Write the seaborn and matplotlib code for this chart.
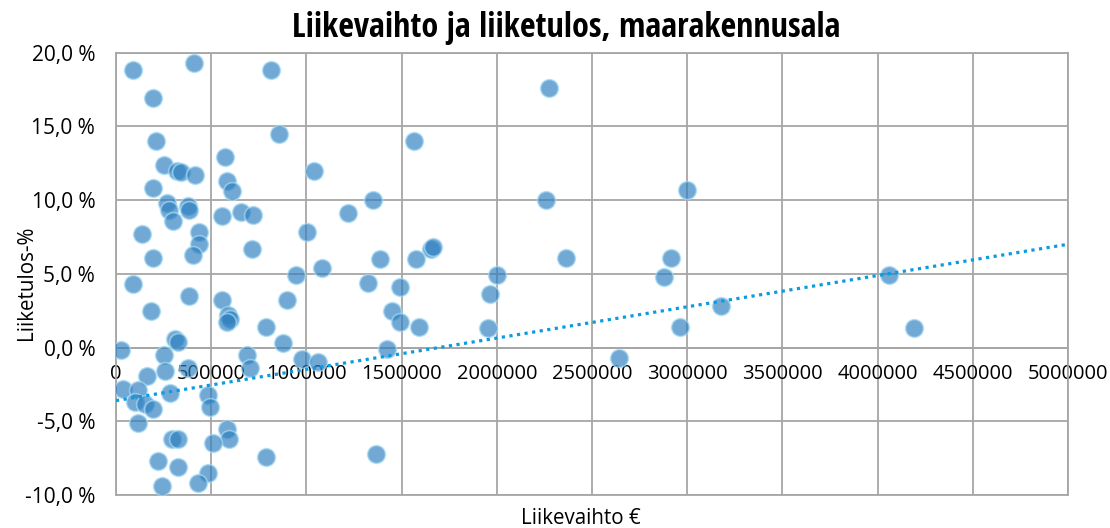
# Liikevaihto vs liiketulos scatter (maarakennusala) with linear trend
import numpy as np
import pandas as pd
import matplotlib
matplotlib.use('Agg')
import matplotlib.pyplot as plt
from matplotlib import ticker
import seaborn as sns

# revenue in euros, operating margin in %
revenue = [88000, 411000, 812000, 196000, 2274000, 208000, 857000, 1566000, 571000, 254000,
           319000, 340000, 413000, 196000, 1038000, 581000, 607000, 266000, 280000, 376000,
           382000, 301000, 135000, 436000, 437000, 403000, 196000, 555000, 655000, 718000,
           712000, 1001000, 1221000, 1351000, 1389000, 2256000, 3001000, 1655000, 1665000, 1578000,
           2361000, 2917000, 2878000, 2001000, 943000, 1083000, 88000, 385000, 555000, 1324000,
           1491000, 896000, 182000, 589000, 598000, 581000, 1447000, 1491000, 1592000, 1954000,
           1963000, 2964000, 3179000, 4059000, 4190000, 786000, 310000, 325000, 878000, 26000,
           254000, 686000, 975000, 1062000, 1425000, 2640000, 164000, 257000, 380000, 703000,
           38000, 117000, 283000, 100000, 152000, 196000, 117000, 484000, 495000, 585000,
           593000, 292000, 327000, 508000, 219000, 327000, 484000, 432000, 243000, 787000,
           1363000]
margin = [18.8, 19.3, 18.8, 16.9, 17.6, 14.0, 14.5, 14.0, 12.9, 12.4,
          12.0, 11.9, 11.7, 10.8, 12.0, 11.3, 10.6, 9.8, 9.3, 9.6,
          9.3, 8.6, 7.7, 7.8, 7.0, 6.3, 6.1, 8.9, 9.2, 9.0,
          6.7, 7.8, 9.1, 10.0, 6.0, 10.0, 10.7, 6.7, 6.8, 6.0,
          6.1, 6.1, 4.8, 4.9, 4.9, 5.4, 4.3, 3.5, 3.2, 4.4,
          4.1, 3.2, 2.5, 2.2, 1.9, 1.7, 2.5, 1.7, 1.4, 1.3,
          3.6, 1.4, 2.8, 4.9, 1.3, 1.4, 0.6, 0.4, 0.3, -0.2,
          -0.5, -0.5, -0.8, -1.0, -0.1, -0.7, -1.9, -1.6, -1.4, -1.4,
          -2.8, -2.9, -3.1, -3.7, -3.8, -4.2, -5.1, -3.2, -4.0, -5.5,
          -6.2, -6.2, -6.2, -6.5, -7.7, -8.1, -8.5, -9.2, -9.4, -7.4,
          -7.2]
# trendline as shown in the chart (% at 0 €, % per €)
trend_intercept = -3.6
trend_slope = 2.12e-6

x_ticks = [0, 500000, 1000000, 1500000, 2000000, 2500000, 3000000, 3500000, 4000000, 4500000, 5000000]
y_ticks = [-10, -5, 0, 5, 10, 15, 20]

df = pd.DataFrame({'Liikevaihto': revenue, 'Liiketulos': margin})

sns.set_theme(style='whitegrid')
plt.rcParams['font.family'] = ['Open Sans', 'DejaVu Sans']
plt.rcParams['text.color'] = 'black'
plt.rcParams['axes.labelcolor'] = 'black'

fig = plt.figure(figsize=(11.1, 5.28), dpi=100)
ax = fig.add_axes([0.1045, 0.0625, 0.8577, 0.838])

sns.scatterplot(data=df, x='Liikevaihto', y='Liiketulos', ax=ax, s=165,
                color='#2f7fc0', alpha=0.68, edgecolor='#a8dcf5', linewidth=1.2, zorder=3)
ax.axline((0, trend_intercept), slope=trend_slope, color='#0a9be0', lw=2.3, ls=(0, (1, 1.4)), zorder=4)
ax.set_xlim(0, 5000000)
ax.set_ylim(-10, 20)

ax.set_xticks(x_ticks)
ax.set_yticks(y_ticks)
ax.xaxis.set_major_formatter(ticker.FuncFormatter(lambda v, p: f'{int(v)}'))
ax.yaxis.set_major_formatter(ticker.FuncFormatter(lambda v, p: f'{v:.1f} %'.replace('.', ',')))
ax.tick_params(axis='x', length=0, pad=12, labelsize=14.5, colors='black')
ax.tick_params(axis='y', length=0, pad=15, labelsize=15, colors='black')

ax.grid(True, color='#a6a6a6', lw=1.3)
for side in ['left', 'right', 'top', 'bottom']:
    ax.spines[side].set_color('#a6a6a6')
    ax.spines[side].set_linewidth(1.3)
ax.spines['bottom'].set_position(('data', 0))
ax.axhline(-10, color='#a6a6a6', lw=1.3, clip_on=False)

ax.set_xlabel('Liikevaihto €', fontsize=14.8)
ax.set_ylabel('Liiketulos-%', fontsize=14.8)
ax.xaxis.set_label_coords(0.488, -0.03)
ax.yaxis.set_label_coords(-0.0945, 0.48)
ax.yaxis.label.set_va('center')

fig.text(0.51, 0.947, 'Liikevaihto ja liiketulos, maarakennusala', ha='center', va='center',
         fontsize=24.5, fontweight='bold', color='black',
         family=['Open Sans Condensed', 'Roboto Condensed', 'DejaVu Sans'])

plt.savefig('out.png', dpi=100)
